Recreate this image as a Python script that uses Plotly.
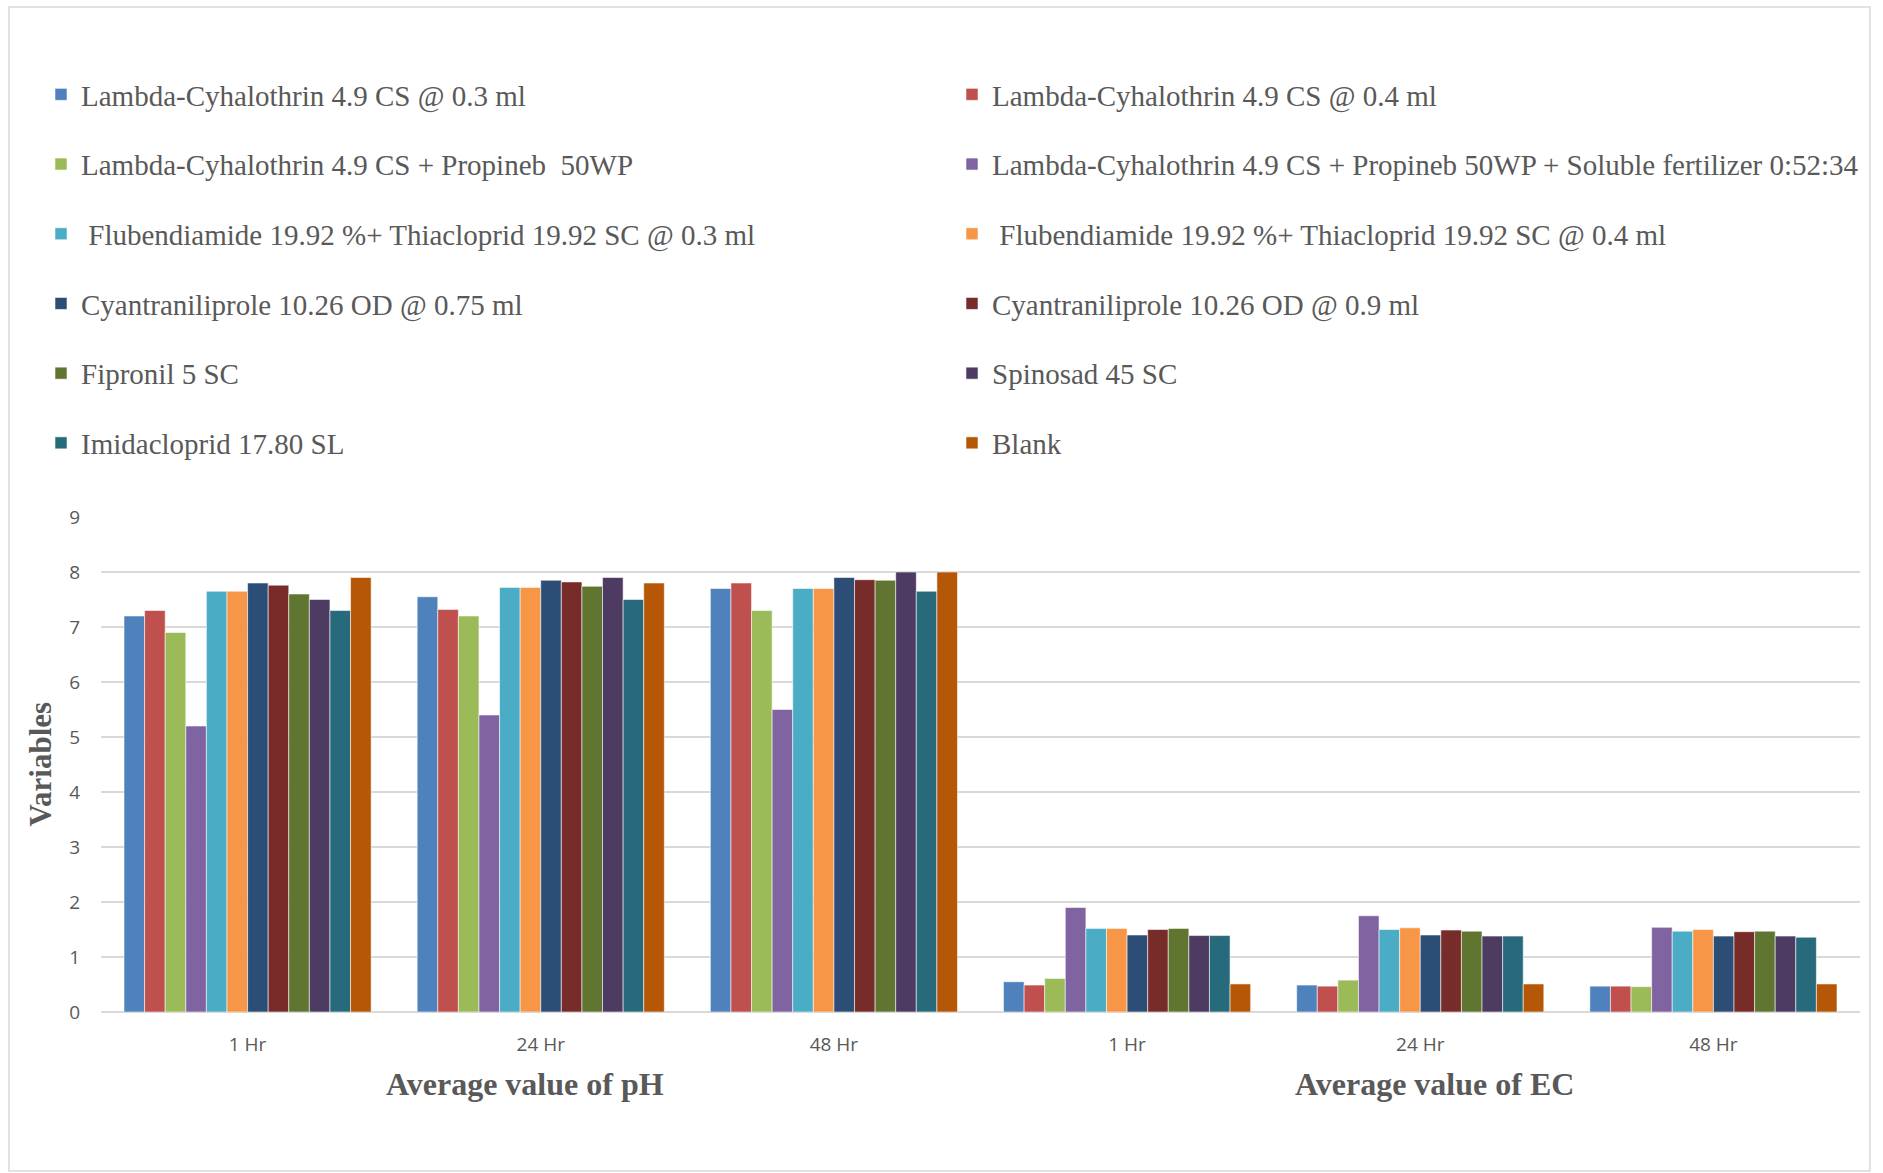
import plotly.graph_objects as go

# ---- data ----
groups = ["Average value of pH", "Average value of EC"]
times = ["1 Hr", "24 Hr", "48 Hr", "1 Hr", "24 Hr", "48 Hr"]
y_ticks = [0, 1, 2, 3, 4, 5, 6, 7, 8, 9]

series_names = [
    "Lambda-Cyhalothrin 4.9 CS @ 0.3 ml",
    "Lambda-Cyhalothrin 4.9 CS @ 0.4 ml",
    "Lambda-Cyhalothrin 4.9 CS + Propineb  50WP",
    "Lambda-Cyhalothrin 4.9 CS + Propineb 50WP + Soluble fertilizer 0:52:34",
    " Flubendiamide 19.92 %+ Thiacloprid 19.92 SC @ 0.3 ml",
    " Flubendiamide 19.92 %+ Thiacloprid 19.92 SC @ 0.4 ml",
    "Cyantraniliprole 10.26 OD @ 0.75 ml",
    "Cyantraniliprole 10.26 OD @ 0.9 ml",
    "Fipronil 5 SC",
    "Spinosad 45 SC",
    "Imidacloprid 17.80 SL",
    "Blank",
]

lambda_03 = [7.2, 7.55, 7.7, 0.55, 0.49, 0.47]
lambda_04 = [7.3, 7.32, 7.8, 0.49, 0.47, 0.47]
lambda_prop = [6.9, 7.2, 7.3, 0.61, 0.58, 0.46]
lambda_prop_fert = [5.2, 5.4, 5.5, 1.9, 1.75, 1.54]
flub_03 = [7.65, 7.72, 7.7, 1.52, 1.5, 1.47]
flub_04 = [7.65, 7.72, 7.7, 1.52, 1.53, 1.5]
cyan_075 = [7.8, 7.85, 7.9, 1.4, 1.4, 1.38]
cyan_09 = [7.76, 7.82, 7.86, 1.5, 1.49, 1.46]
fipronil = [7.6, 7.74, 7.85, 1.52, 1.47, 1.47]
spinosad = [7.5, 7.9, 8.0, 1.39, 1.38, 1.38]
imidacloprid = [7.3, 7.5, 7.65, 1.39, 1.38, 1.36]
blank = [7.9, 7.8, 8.0, 0.51, 0.51, 0.51]

series_values = [lambda_03, lambda_04, lambda_prop, lambda_prop_fert, flub_03, flub_04,
                 cyan_075, cyan_09, fipronil, spinosad, imidacloprid, blank]

colors = ["#4F81BD", "#C0504D", "#9BBB59", "#8064A2", "#4BACC6", "#F79646",
          "#2C4D75", "#772C2A", "#5F7530", "#4D3B62", "#276A7C", "#B65708"]

# ---- figure ----
W, H = 1883, 1173
L, R, T, B = 101, 23, 517, 161
pw, ph = W - L - R, H - T - B

def px_x(p):
    return (p - L) / pw

def px_y(p):
    return (H - B - p) / ph

x_pos = list(range(len(times)))

fig = go.Figure()
for i, (name, vals) in enumerate(zip(series_names, series_values)):
    fig.add_trace(go.Bar(
        x=x_pos, y=vals, name=name,
        marker=dict(color=colors[i], line=dict(color="rgba(255,255,255,0.55)", width=1)),
        legendgroup="g%d" % i,
        legend="legend" if i % 2 == 0 else "legend2",
    ))

legend_font = dict(family="Liberation Serif", size=29, color="#595959")
common_legend = dict(
    orientation="v", traceorder="grouped", tracegroupgap=29,
    font=legend_font, bgcolor="rgba(0,0,0,0)",
    xref="container", yref="container", xanchor="left", yanchor="top",
    itemclick=False, itemdoubleclick=False,
)

fig.update_layout(
    width=W, height=H,
    margin=dict(l=L, r=R, t=T, b=B, pad=0, autoexpand=False),
    paper_bgcolor="white", plot_bgcolor="white",
    barmode="group", bargap=0.157, bargroupgap=0,
    showlegend=True,
    legend=dict(x=41 / W, y=1 - 69 / H, **common_legend),
    legend2=dict(x=952 / W, y=1 - 69 / H, **common_legend),
    xaxis=dict(
        tickmode="array", tickvals=x_pos, ticktext=times,
        range=[-0.5, len(times) - 0.5],
        showgrid=False, zeroline=False, showline=False, ticks="",
        tickfont=dict(family="Open Sans", size=19, color="#595959"),
        ticklabelstandoff=19, tickangle=0, automargin=False,
    ),
    yaxis=dict(
        range=[0, 9], tickmode="array", tickvals=y_ticks,
        showgrid=True, gridcolor="#D9D9D9", gridwidth=1.5,
        zeroline=True, zerolinecolor="#D9D9D9", zerolinewidth=1.5,
        showline=False, ticks="",
        tickfont=dict(family="Open Sans", size=19, color="#595959"),
        ticklabelstandoff=20, automargin=False,
    ),
    annotations=[
        dict(text="<b>" + groups[0] + "</b>", xref="paper", yref="paper",
             x=px_x(525), y=px_y(1084), xanchor="center", yanchor="middle", showarrow=False,
             font=dict(family="Liberation Serif", size=32, color="#595959")),
        dict(text="<b>" + groups[1] + "</b>", xref="paper", yref="paper",
             x=px_x(1434), y=px_y(1084), xanchor="center", yanchor="middle", showarrow=False,
             font=dict(family="Liberation Serif", size=32, color="#595959")),
        dict(text="<b>Variables</b>", xref="paper", yref="paper", textangle=-90,
             x=px_x(40), y=0.5, xanchor="center", yanchor="middle", showarrow=False,
             font=dict(family="Liberation Serif", size=31, color="#595959")),
    ],
    shapes=[
        dict(type="rect", xref="paper", yref="paper",
             x0=px_x(9), x1=px_x(1870), y0=px_y(1171), y1=px_y(7),
             line=dict(color="#D9D9D9", width=1.5), fillcolor="rgba(0,0,0,0)", layer="below"),
    ],
)

fig.write_html("out.html", config={"displayModeBar": False},
               post_script="document.body.style.margin='0';document.body.style.overflow='hidden';")
